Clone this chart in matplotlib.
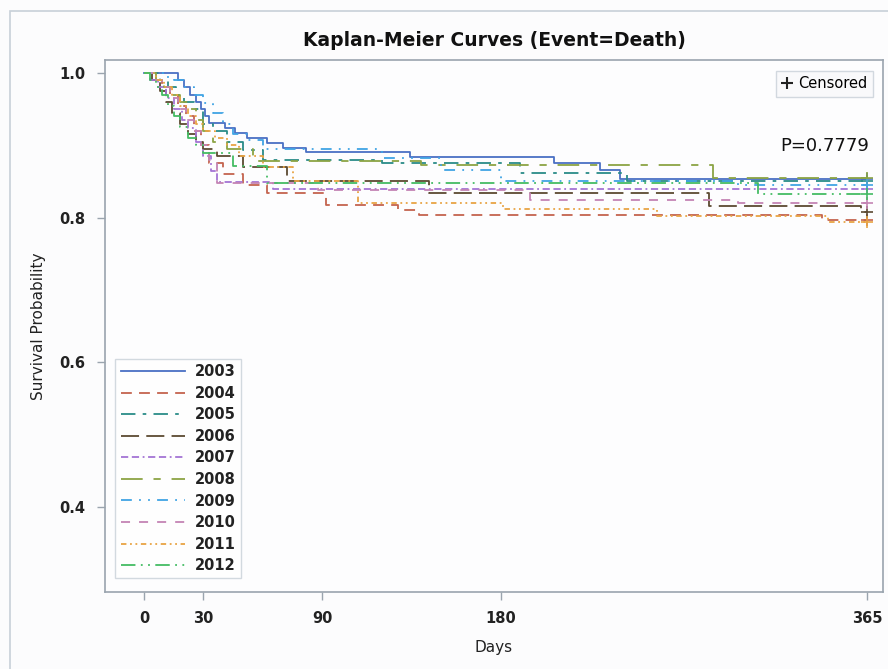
import matplotlib
matplotlib.use("Agg")
import matplotlib.pyplot as plt
from matplotlib.lines import Line2D
from matplotlib.patches import Rectangle

years = ["2003", "2004", "2005", "2006", "2007", "2008", "2009", "2010", "2011", "2012"]
colors = ["#4a70c4", "#c4644e", "#2a8c88", "#5c4a32", "#a474d4", "#8ca444",
          "#40a4e4", "#c484b4", "#e8a444", "#44bc64"]
dashes = [None, (6, 4), (8, 4, 2, 4), (10, 4), (4, 2, 4, 2, 1, 2), (12, 6, 4, 6),
          (6, 4, 1, 4, 1, 4), (5, 5), (3, 2, 1, 2, 1, 2), (8, 3, 1, 3, 1, 3)]

t2003 = [0, 17, 20, 23, 26, 29, 31, 33, 41, 46, 52, 62, 70, 82, 134, 207, 230, 240]
s2003 = [1.0, 0.99, 0.98, 0.97, 0.96, 0.95, 0.94, 0.931, 0.924, 0.917, 0.91, 0.903, 0.896, 0.891, 0.884, 0.875, 0.866, 0.853]
t2004 = [0, 5, 9, 13, 17, 21, 25, 29, 33, 40, 50, 62, 92, 128, 139, 342]
s2004 = [1.0, 0.99, 0.98, 0.97, 0.955, 0.94, 0.92, 0.90, 0.875, 0.86, 0.845, 0.834, 0.817, 0.81, 0.803, 0.796]
t2005 = [0, 8, 12, 16, 20, 25, 30, 35, 42, 50, 60, 120, 190, 244]
s2005 = [1.0, 0.99, 0.98, 0.97, 0.96, 0.95, 0.93, 0.92, 0.905, 0.893, 0.88, 0.875, 0.862, 0.851]
t2006 = [0, 4, 8, 11, 14, 18, 22, 26, 30, 37, 50, 72, 144, 285, 362]
s2006 = [1.0, 0.99, 0.975, 0.96, 0.945, 0.93, 0.915, 0.905, 0.895, 0.885, 0.87, 0.85, 0.834, 0.816, 0.808]
t2007 = [0, 3, 7, 11, 15, 19, 22, 26, 30, 34, 37, 65]
s2007 = [1.0, 0.99, 0.98, 0.965, 0.95, 0.935, 0.924, 0.905, 0.885, 0.865, 0.849, 0.839]
t2008 = [0, 6, 10, 14, 18, 22, 26, 30, 35, 42, 55, 140, 287]
s2008 = [1.0, 0.99, 0.98, 0.97, 0.96, 0.95, 0.935, 0.92, 0.905, 0.895, 0.878, 0.873, 0.855]
t2009 = [0, 10, 15, 20, 25, 30, 35, 40, 45, 52, 60, 120, 150, 180, 300]
s2009 = [1.0, 0.995, 0.99, 0.98, 0.97, 0.958, 0.945, 0.93, 0.915, 0.907, 0.895, 0.882, 0.866, 0.851, 0.845]
t2010 = [0, 5, 9, 13, 17, 21, 25, 29, 33, 37, 88, 195, 300]
s2010 = [1.0, 0.99, 0.98, 0.965, 0.95, 0.935, 0.92, 0.90, 0.88, 0.848, 0.838, 0.824, 0.82]
t2011 = [0, 6, 10, 14, 18, 22, 26, 30, 36, 42, 48, 60, 75, 108, 181, 259, 345]
s2011 = [1.0, 0.99, 0.98, 0.97, 0.955, 0.94, 0.93, 0.92, 0.91, 0.9, 0.885, 0.87, 0.85, 0.82, 0.812, 0.802, 0.794]
t2012 = [0, 3, 6, 9, 12, 15, 18, 22, 26, 30, 45, 62, 310]
s2012 = [1.0, 0.99, 0.98, 0.97, 0.955, 0.94, 0.925, 0.91, 0.9, 0.89, 0.872, 0.848, 0.833]

times = [t2003, t2004, t2005, t2006, t2007, t2008, t2009, t2010, t2011, t2012]
survs = [s2003, s2004, s2005, s2006, s2007, s2008, s2009, s2010, s2011, s2012]
end_day = 365
xticks = [0, 30, 90, 180, 365]
yticks = [0.4, 0.6, 0.8, 1.0]
p_text = "P=0.7779"

plt.rcParams['font.family'] = ['DejaVu Sans']
fig = plt.figure(figsize=(8.88, 6.69), dpi=100)
fig.patch.set_facecolor("#fcfcfd")
W, H = 888, 669
fig.add_artist(Rectangle((10 / W, -0.01), 1.0, 1 - 11 / H + 0.01, transform=fig.transFigure,
                         fill=False, edgecolor="#c8d0d8", linewidth=1.2))

ax = fig.add_axes([105 / W, (H - 592) / H, (883 - 105) / W, (592 - 60) / H])
ax.set_facecolor("#fdfdfe")

gray = "#9aa4ae"
handles = []
for yr, c, d, t, s in zip(years, colors, dashes, times, survs):
    tt = list(t) + [end_day]
    ss = list(s) + [s[-1]]
    line, = ax.step(tt, ss, where="post", color=c, linewidth=1.3, label=yr)
    if d is not None:
        line.set_dashes(d)
    ax.plot([end_day], [s[-1]], marker="+", color=c, markersize=9, markeredgewidth=1.2, linestyle="none")
    handles.append(line)

ax.set_xlim(-19.7, 373)
ax.set_ylim(0.282, 1.018)
ax.set_xticks(xticks)
ax.set_xticklabels([str(v) for v in xticks])
ax.set_yticks(yticks)
ax.set_yticklabels([f"{v:.1f}" for v in yticks])
ax.tick_params(direction="out", length=6, width=1, color=gray, labelsize=10.5,
               labelcolor="#222222", pad=8)
for lab in ax.get_xticklabels() + ax.get_yticklabels():
    lab.set_fontweight("bold")
for sp in ax.spines.values():
    sp.set_color(gray)
    sp.set_linewidth(1.2)

ax.set_xlabel("Days", fontsize=11, color="#222222", labelpad=10)
ax.set_ylabel("Survival Probability", fontsize=11, color="#222222", labelpad=10)
ax.set_title("Kaplan-Meier Curves (Event=Death)", fontsize=13.5, fontweight="bold",
             color="#111111", pad=10)

leg = ax.legend(handles=handles, loc="lower left", bbox_to_anchor=(0.004, 0.012),
                fontsize=10.5, handlelength=4.4, labelspacing=0.45, borderpad=0.35,
                handletextpad=0.7, frameon=True, fancybox=False)
leg.get_frame().set_edgecolor("#c8d0d8")
leg.get_frame().set_linewidth(1.0)
for tx in leg.get_texts():
    tx.set_fontweight("bold")
    tx.set_color("#222222")

cens = Line2D([], [], marker="+", color="#222222", linestyle="none", markersize=8,
              markeredgewidth=1.5)
leg2 = fig.legend(handles=[cens], labels=["Censored"], loc="upper right",
                  bbox_to_anchor=(880 / W, 1 - 64 / H), fontsize=10.5, handlelength=0.8,
                  handletextpad=0.4, borderpad=0.35, frameon=True, fancybox=False)
leg2.get_frame().set_edgecolor("#c8d0d8")
leg2.get_frame().set_facecolor("#f8f9fb")

ax.text(end_day + 1, 0.886, p_text, fontsize=13, color="#111111", ha="right", va="bottom")

fig.savefig("out.png", dpi=100, facecolor=fig.get_facecolor())
